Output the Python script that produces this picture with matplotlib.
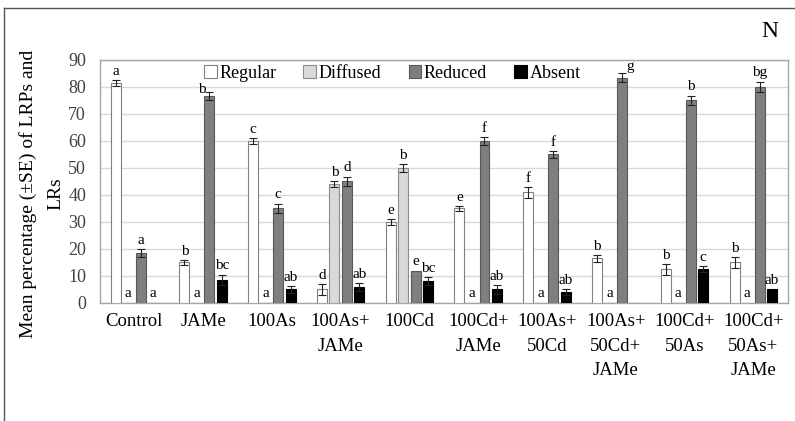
import numpy as np
import matplotlib.pyplot as plt
from matplotlib.lines import Line2D

plt.rcParams['font.family'] = ['Liberation Serif', 'DejaVu Serif']

groups = ["Control", "JAMe", "100As", "100As+\nJAMe", "100Cd", "100Cd+\nJAMe",
          "100As+\n50Cd", "100As+\n50Cd+\nJAMe", "100Cd+\n50As", "100Cd+\n50As+\nJAMe"]
series = ["Regular", "Diffused", "Reduced", "Absent"]

regular = [81.5, 15, 60, 5, 30, 35, 41, 16.5, 12.5, 15]
diffused = [0, 0, 0, 44, 50, 0, 0, 0, 0, 0]
reduced = [18.5, 76.5, 35, 45, 12, 60, 55, 83.5, 75, 80]
absent = [0, 8.5, 5, 6, 8, 5, 4, 0, 12.5, 5]

regular_se = [1, 1, 1.2, 2, 1, 0.8, 2, 1.2, 2, 2]
diffused_se = [0, 0, 0, 1, 1.5, 0, 0, 0, 0, 0]
reduced_se = [1.5, 1.5, 1.8, 1.8, 0, 1.5, 1.2, 1.5, 1.8, 2]
absent_se = [0, 2, 1.2, 1.5, 1.5, 1.5, 1.2, 0, 1.2, 0]

regular_let = ["a", "b", "c", "d", "e", "e", "f", "b", "b", "b"]
diffused_let = ["a", "a", "a", "b", "b", "a", "a", "a", "a", "a"]
reduced_let = ["a", "b", "c", "d", "e", "f", "f", "g", "b", "bg"]
absent_let = ["a", "bc", "ab", "ab", "bc", "ab", "ab", "", "c", "ab"]

values = [regular, diffused, reduced, absent]
errors = [regular_se, diffused_se, reduced_se, absent_se]
letters = [regular_let, diffused_let, reduced_let, absent_let]
faces = ["white", "#d9d9d9", "#7f7f7f", "black"]
edges = ["#808080", "#8c8c8c", "#595959", "black"]

fig = plt.figure(figsize=(7.95, 4.21), dpi=100)
ax = fig.add_axes([0.1258, 0.2803, 0.8650, 0.5772])

x = np.arange(len(groups))
w = 0.145
pitch = 0.182
for i in range(4):
    xs = x + (i - 1.5) * pitch
    ax.bar(xs, values[i], w, color=faces[i], edgecolor=edges[i], linewidth=0.8,
           label=series[i], zorder=3)
    err = np.array(errors[i])
    vals = np.array(values[i])
    has = err > 0
    ax.errorbar(xs[has], vals[has], yerr=err[has], fmt='none', ecolor='#222222',
                elinewidth=0.8, capsize=3, capthick=0.8, zorder=4)
    for j in range(len(groups)):
        lab = letters[i][j]
        if not lab:
            continue
        if vals[j] == 0:
            ax.text(xs[j], 3.5, lab, ha='center', va='center', fontsize=11, zorder=5)
        elif i == 2 and j == 7:
            # letter sits to the right of the tallest bar
            ax.text(xs[j] + 0.12, vals[j] + err[j] + 0.3, lab, ha='center',
                    va='bottom', fontsize=11, zorder=5)
        elif i == 2 and j == 1:
            ax.text(xs[j] - 0.11, vals[j] + err[j] + 1.0, lab, ha='center',
                    va='center', fontsize=11, zorder=5)
        else:
            ax.text(xs[j], vals[j] + err[j] + 0.8, lab, ha='center', va='bottom',
                    fontsize=11, zorder=5)

ax.set_xlim(-0.5, len(groups) - 0.5)
ax.set_ylim(0, 90)
ax.set_yticks(range(0, 91, 10))
ax.set_xticks(x)
ax.set_xticklabels(groups, fontsize=13.5, linespacing=1.6)
ax.tick_params(axis='both', length=0)
ax.tick_params(axis='x', pad=7)
ax.tick_params(axis='y', pad=10, labelcolor='#404040', labelsize=13)
ax.yaxis.grid(True, color='#d9d9d9', linewidth=1, zorder=0)
ax.set_axisbelow(True)
for sp in ax.spines.values():
    sp.set_color('#a6a6a6')
    sp.set_linewidth(1)

fig.text(0.052, 0.54, "Mean percentage (\u00b1SE) of LRPs and\nLRs", fontsize=14,
         rotation=90, ha='center', va='center', linespacing=1.8,
         multialignment='center')

ax.legend(loc='center', bbox_to_anchor=(0.425, 0.946), ncol=4, frameon=False,
          fontsize=13, handlelength=0.7, handleheight=0.7, handletextpad=0.15,
          columnspacing=1.5, borderpad=0)

fig.text(0.969, 0.925, "N", fontsize=17, ha='center', va='center')

fig.add_artist(Line2D([0.005, 0.005], [0, 0.981], transform=fig.transFigure,
                      color='#555555', linewidth=1))
fig.add_artist(Line2D([0.005, 1], [0.981, 0.981], transform=fig.transFigure,
                      color='#555555', linewidth=1))

fig.savefig("out.png", dpi=100)
